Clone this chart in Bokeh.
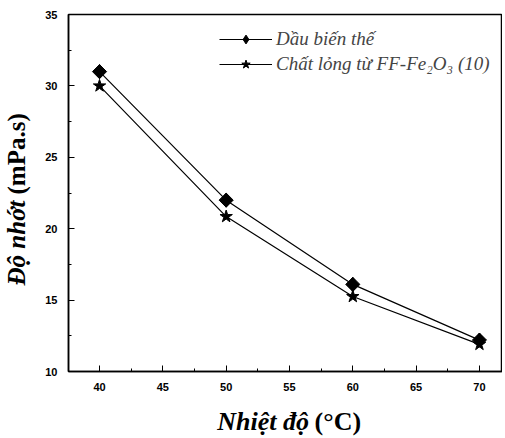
import math
from bokeh.plotting import figure
from bokeh.layouts import row, column
from bokeh.models import Range1d, Legend, LegendItem, SingleIntervalTicker
from bokeh.core.properties import value
from bokeh.embed import file_html
from bokeh.resources import INLINE

temps = [40, 50, 60, 70]
oil = [31.0, 22.0, 16.1, 12.2]
ferrofluid = [30.0, 20.85, 15.25, 11.9]
series_names = ["Dầu biến thế", "Chất lỏng từ FF-Fe₂O₃ (10)"]
x_label_a = "Nhiệt độ"
x_label_b = "(°C)"
y_label_a = "Độ nhớt"
y_label_b = "(mPa.s)"

LEFT_W = 40
MAIN_W = 462
MAIN_H = 401
XLAB_H = 36
TOTAL_H = MAIN_H + XLAB_H

p = figure(width=MAIN_W, height=MAIN_H, output_backend="svg", toolbar_location=None,
           x_range=Range1d(37.55, 71.82), y_range=Range1d(10, 35),
           min_border_left=68 - LEFT_W, min_border_right=0, min_border_top=14,
           min_border_bottom=30)
p.grid.visible = False
p.outline_line_color = "black"
p.outline_line_width = 1.5
p.background_fill_color = "white"
p.border_fill_color = "white"

p.xaxis.ticker = SingleIntervalTicker(interval=5, num_minor_ticks=2)
p.yaxis.ticker = SingleIntervalTicker(interval=5, num_minor_ticks=2)
for ax in (p.xaxis, p.yaxis):
    ax.axis_line_color = "black"
    ax.axis_line_width = 1.5
    ax.major_tick_in = 6
    ax.major_tick_out = 0
    ax.minor_tick_in = 3
    ax.minor_tick_out = 0
    ax.major_tick_line_color = "black"
    ax.minor_tick_line_color = "black"
    ax.major_label_text_font = "Liberation Sans"
    ax.major_label_text_font_style = "bold"
    ax.major_label_text_font_size = "11px"
    ax.major_label_text_color = "black"
p.xaxis.major_label_standoff = 11
p.yaxis.major_label_standoff = 11

r1 = p.line(temps, oil, line_color="black", line_width=1.2)
m1 = p.scatter(temps, oil, marker="square", size=10, angle=math.pi / 4,
               fill_color="black", line_color="black")
# diamond drawn inside the rotated squares; used as the legend key
k1 = p.scatter(temps, oil, marker="diamond", size=14, fill_color="black", line_color="black")
r2 = p.line(temps, ferrofluid, line_color="black", line_width=1.2)
m2 = p.scatter(temps, ferrofluid, marker="star", size=13, fill_color="black", line_color="black")

legend = Legend(items=[LegendItem(label=series_names[0], renderers=[r1, k1]),
                       LegendItem(label=series_names[1], renderers=[r2, m2])],
                location=(151, 296), background_fill_alpha=0, border_line_alpha=0,
                label_text_font="Liberation Serif", label_text_font_style="italic",
                label_text_font_size="19px", glyph_width=53, glyph_height=22,
                label_height=22, spacing=3, padding=0, margin=0, label_standoff=4)
p.add_layout(legend)

# x-axis title strip (mixed styles: italic words, upright unit)
xl = figure(width=MAIN_W, height=XLAB_H, output_backend="svg", toolbar_location=None,
            x_range=Range1d(0, MAIN_W), y_range=Range1d(0, XLAB_H),
            x_axis_type=None, y_axis_type=None, min_border=0)
xl.grid.visible = False
xl.outline_line_color = None
xl.text(x=[256], y=[16], text=[x_label_a], text_font=value("Liberation Serif"),
        text_font_style="bold italic", text_font_size=value("26px"),
        text_align="right", text_baseline="alphabetic", text_color="black")
xl.text(x=[262], y=[16], text=[x_label_b], text_font=value("Liberation Serif"),
        text_font_style="bold", text_font_size=value("26px"),
        text_align="left", text_baseline="alphabetic", text_color="black")

# y-axis title strip (rotated)
yl = figure(width=LEFT_W, height=TOTAL_H, output_backend="svg", toolbar_location=None,
            x_range=Range1d(0, LEFT_W), y_range=Range1d(0, TOTAL_H),
            x_axis_type=None, y_axis_type=None, min_border=0)
yl.grid.visible = False
yl.outline_line_color = None
yl.text(x=[16], y=[TOTAL_H - 200], text=[y_label_a], text_font=value("Liberation Serif"),
        text_font_style="bold italic", text_font_size=value("25px"), angle=math.pi / 2,
        text_align="right", text_baseline="alphabetic", text_color="black")
yl.text(x=[16], y=[TOTAL_H - 194], text=[y_label_b], text_font=value("Liberation Serif"),
        text_font_style="bold", text_font_size=value("25px"), angle=math.pi / 2,
        text_align="left", text_baseline="alphabetic", text_color="black")

layout = row(yl, column(p, xl, spacing=0), spacing=0)
open("out.html", "w").write(file_html(layout, INLINE))
